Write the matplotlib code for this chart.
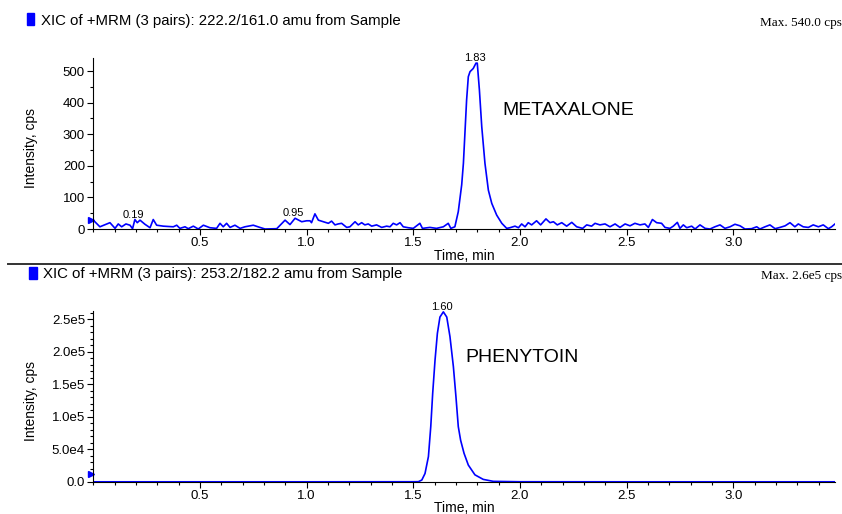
import matplotlib

matplotlib.use("Agg")
import matplotlib.pyplot as plt
from matplotlib.lines import Line2D
from matplotlib.patches import Rectangle
from matplotlib.ticker import FixedLocator, MultipleLocator

BLUE = "#0000FF"
W, H = 842, 514

# XIC 222.2/161.0 (metaxalone)
meta_time = [
    0.000, 0.031, 0.078, 0.102, 0.117, 0.133, 0.153, 0.172, 0.184, 0.195,
    0.206, 0.219, 0.242, 0.266, 0.281, 0.297, 0.328, 0.375, 0.391, 0.406,
    0.430, 0.445, 0.469, 0.492, 0.516, 0.547, 0.578, 0.594, 0.609, 0.625,
    0.641, 0.664, 0.688, 0.711, 0.750, 0.781, 0.805, 0.860, 0.899, 0.922,
    0.946, 0.977, 1.000, 1.016, 1.023, 1.039, 1.055, 1.078, 1.102, 1.117,
    1.133, 1.148, 1.164, 1.188, 1.203, 1.227, 1.242, 1.258, 1.273, 1.289,
    1.305, 1.328, 1.352, 1.375, 1.391, 1.406, 1.422, 1.438, 1.453, 1.477,
    1.500, 1.531, 1.543, 1.578, 1.609, 1.641, 1.664, 1.676, 1.695, 1.711,
    1.727, 1.735, 1.742, 1.750, 1.758, 1.766, 1.781, 1.794, 1.800, 1.810,
    1.821, 1.836, 1.852, 1.868, 1.891, 1.915, 1.938, 1.953, 1.977, 1.993,
    2.008, 2.024, 2.039, 2.055, 2.078, 2.097, 2.122, 2.141, 2.157, 2.175,
    2.196, 2.219, 2.243, 2.266, 2.294, 2.313, 2.336, 2.352, 2.375, 2.399,
    2.422, 2.446, 2.469, 2.493, 2.516, 2.539, 2.563, 2.586, 2.602, 2.621,
    2.641, 2.664, 2.680, 2.703, 2.719, 2.738, 2.750, 2.766, 2.782, 2.805,
    2.821, 2.844, 2.868, 2.891, 2.914, 2.938, 2.961, 2.985, 3.008, 3.032,
    3.055, 3.086, 3.110, 3.125, 3.149, 3.172, 3.196, 3.219, 3.243, 3.266,
    3.289, 3.305, 3.328, 3.352, 3.375, 3.399, 3.422, 3.446, 3.461, 3.477,
]
meta_cps = [
    28, 7, 20, 2, 16, 7, 16, 12, 1, 30,
    20, 28, 15, 4, 30, 12, 9, 7, 12, 2,
    7, 1, 9, 0, 12, 4, 2, 18, 7, 18,
    5, 12, 2, 7, 12, 5, 0, 1, 28, 14,
    34, 23, 26, 26, 20, 48, 28, 23, 18, 25,
    13, 16, 18, 5, 7, 23, 13, 20, 13, 16,
    9, 13, 5, 9, 7, 18, 13, 20, 7, 4,
    2, 18, 2, 5, 2, 7, 18, 2, 7, 55,
    140, 208, 303, 408, 482, 498, 508, 525, 525, 440,
    324, 208, 123, 81, 44, 18, 2, 4, 9, 4,
    16, 7, 20, 13, 26, 13, 32, 20, 23, 13,
    20, 9, 21, 7, 2, 13, 9, 18, 13, 16,
    7, 16, 5, 16, 10, 18, 13, 16, 5, 30,
    20, 18, 5, 2, 9, 21, 2, 13, 4, 9,
    0, 13, 2, 0, 7, 13, 2, 7, 15, 10,
    0, 1, 7, 0, 7, 13, 1, 5, 10, 20,
    7, 16, 7, 5, 13, 7, 13, 1, 7, 16,
]
meta_peak_time = [0.195, 0.946, 1.797]
meta_peak_cps = [30, 34, 525]
meta_peak_text = ["0.19", "0.95", "1.83"]
meta_threshold = 28

# XIC 253.2/182.2 (phenytoin)
phen_time = [
    0.000, 0.500, 1.000, 1.500, 1.524, 1.540, 1.555, 1.571, 1.582, 1.591,
    1.602, 1.613, 1.625, 1.641, 1.657, 1.672, 1.688, 1.700, 1.711, 1.722,
    1.738, 1.758, 1.789, 1.828, 1.875, 2.000, 2.500, 3.000, 3.477,
]
phen_cps = [
    300, 300, 300, 400, 500, 3000, 13000, 39000, 85000, 136000,
    187000, 228000, 253000, 261000, 253000, 223000, 177000, 131000, 85000, 64000,
    44000, 26000, 11000, 4000, 1000, 400, 300, 300, 300,
]
phen_peak_time = [1.641]
phen_peak_cps = [261000]
phen_peak_text = ["1.60"]
phen_threshold = 12700

x_ticks = [0.5, 1.0, 1.5, 2.0, 2.5, 3.0]
x_tick_labels = ["0.5", "1.0", "1.5", "2.0", "2.5", "3.0"]
meta_y_ticks = [0, 100, 200, 300, 400, 500]
meta_y_tick_labels = ["0", "100", "200", "300", "400", "500"]
phen_y_ticks = [0, 50000, 100000, 150000, 200000, 250000]
phen_y_tick_labels = ["0.0", "5.0e4", "1.0e5", "1.5e5", "2.0e5", "2.5e5"]

plt.rcParams["font.family"] = ["Liberation Sans", "DejaVu Sans"]


def fx(px):
    return px / W


def fy(py):
    return 1 - py / H


def draw_panel(fig, rect, time, cps, ymax, yticks, ylabels, yminor,
               peak_t, peak_y, peak_txt, threshold, name, name_pos,
               title, title_base, square, max_text, xlab_y):
    ax = fig.add_axes(rect)
    ax.plot(time, cps, color=BLUE, lw=1.2, solid_joinstyle="round")
    ax.plot([-0.011], [threshold], marker=">", color=BLUE, ms=5,
            clip_on=False, lw=0)
    for t, y, s in zip(peak_t, peak_y, peak_txt):
        ax.annotate(s, (t, y), xytext=(-1, 0), textcoords="offset points",
                    ha="center", va="bottom", fontsize=8)
    ax.text(name_pos[0], name_pos[1], name, transform=ax.transAxes,
            fontsize=14, va="center", ha="left")

    ax.set_xlim(0, 3.477)
    ax.set_ylim(0, ymax)
    ax.xaxis.set_major_locator(FixedLocator(x_ticks))
    ax.set_xticklabels(x_tick_labels)
    ax.xaxis.set_minor_locator(MultipleLocator(0.1))
    ax.yaxis.set_major_locator(FixedLocator(yticks))
    ax.set_yticklabels(ylabels)
    ax.yaxis.set_minor_locator(MultipleLocator(yminor))
    ax.tick_params(which="both", direction="out", width=0.8, labelsize=9.5,
                   pad=2)
    ax.tick_params(which="major", length=4)
    ax.tick_params(which="minor", length=2.5)
    for side in ("top", "right"):
        ax.spines[side].set_visible(False)
    for side in ("left", "bottom"):
        ax.spines[side].set_linewidth(0.8)
    ax.set_xlabel("Time, min", fontsize=10)
    ax.xaxis.set_label_coords(0.5, xlab_y)
    ax.set_ylabel("Intensity, cps", fontsize=10)
    ax.yaxis.set_label_coords(-0.074, 0.475)

    x0, y0, x1, y1 = square
    fig.patches.append(Rectangle((fx(x0), fy(y1)), fx(x1 - x0), (y1 - y0) / H,
                                 transform=fig.transFigure, color=BLUE))
    fig.text(fx(x1 + 6.5), fy(title_base), title, fontsize=10.8,
             va="baseline", ha="left")
    fig.text(1.0, fy(title_base + 1), max_text, fontsize=9.5, ha="right",
             va="baseline", family=["Liberation Serif", "DejaVu Serif"])
    return ax


fig = plt.figure(figsize=(W / 100, H / 100), dpi=100)

draw_panel(fig, [fx(93.3), fy(229), fx(835) - fx(93.3), (229 - 58.4) / H],
           meta_time, meta_cps, 540, meta_y_ticks, meta_y_tick_labels, 50,
           meta_peak_time, meta_peak_cps, meta_peak_text, meta_threshold,
           "METAXALONE", (0.551, 0.692),
           "XIC of +MRM (3 pairs): 222.2/161.0 amu from Sample", 25,
           (26.7, 12.7, 34.3, 25.3), "Max. 540.0 cps", -0.12)

draw_panel(fig, [fx(93.3), fy(482), fx(835) - fx(93.3), (482 - 311.2) / H],
           phen_time, phen_cps, 262000, phen_y_ticks, phen_y_tick_labels, 10000,
           phen_peak_time, phen_peak_cps, phen_peak_text, phen_threshold,
           "PHENYTOIN", (0.501, 0.726),
           "XIC of +MRM (3 pairs): 253.2/182.2 amu from Sample", 278.3,
           (29.3, 266.7, 36.7, 279), "Max. 2.6e5 cps", -0.112)

fig.lines.append(Line2D([fx(8), 1.0], [fy(263.5), fy(263.5)],
                        transform=fig.transFigure, color="#333333", lw=1.4))

fig.savefig("out.png", dpi=100)
